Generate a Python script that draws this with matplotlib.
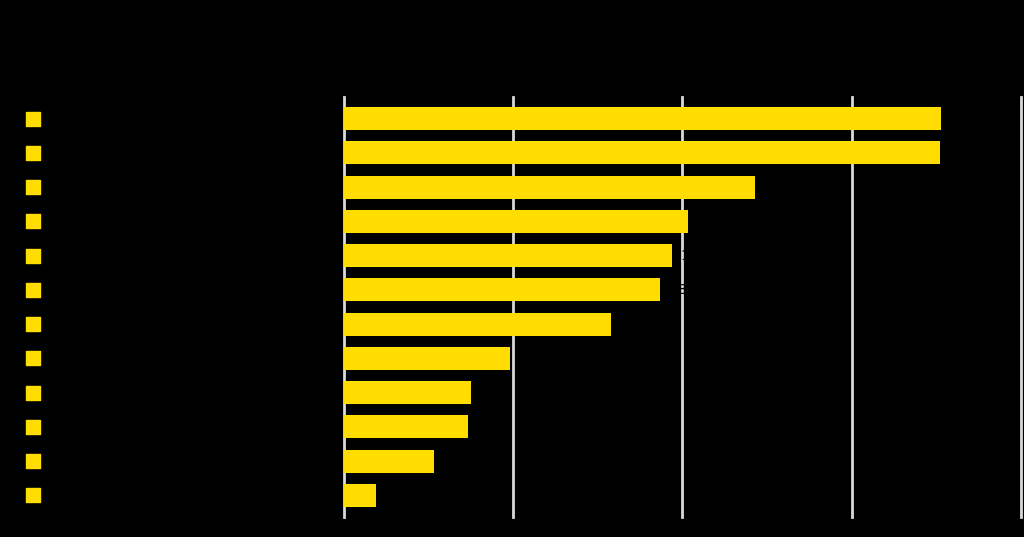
import matplotlib.pyplot as plt
import matplotlib.transforms as mtransforms

# valores (escala 0-40)
categorias = ["A", "B", "C", "D", "E", "F", "G", "H", "I", "J", "K", "L"]
valores = [35.3, 35.2, 24.3, 20.3, 19.4, 18.7, 15.8, 9.8, 7.5, 7.3, 5.3, 1.9]
ticks_x = [0, 10, 20, 30, 40]

AMARILLO = "#FFDD00"
FONDO = "black"

fig = plt.figure(figsize=(10.24, 5.37), dpi=100, facecolor=FONDO)
ax = fig.add_axes([0.336, 0.0372, 0.661, 0.7822], facecolor=FONDO)

pos = list(range(len(categorias)))
for x in ticks_x:
    ax.axvline(x, color="#d9d9d9", lw=2, zorder=1, clip_on=False)

ax.barh(pos, valores, height=0.67, color=AMARILLO, zorder=2)

# etiquetas de valor (negras sobre fondo negro, como en el original)
for p, v in zip(pos, valores):
    ax.text(v + 0.5, p, f"{v:.1f}", color="black", va="center", fontsize=10)

# marcadores cuadrados a la izquierda de cada categoria
trans = mtransforms.blended_transform_factory(fig.transFigure, ax.transData)
ax.scatter([0.0322] * len(pos), pos, marker="s", s=105, color=AMARILLO,
           transform=trans, clip_on=False, zorder=3)
for p, c in zip(pos, categorias):
    ax.text(0.05, p, c, transform=trans, color="black", va="center", fontsize=11)

ax.set_xlim(0, 40)
ax.set_ylim(len(pos) - 0.37, -0.63)
ax.set_xticks([])
ax.set_yticks([])
for s in ax.spines.values():
    s.set_visible(False)

fig.savefig("out.png", dpi=100, facecolor=FONDO)
